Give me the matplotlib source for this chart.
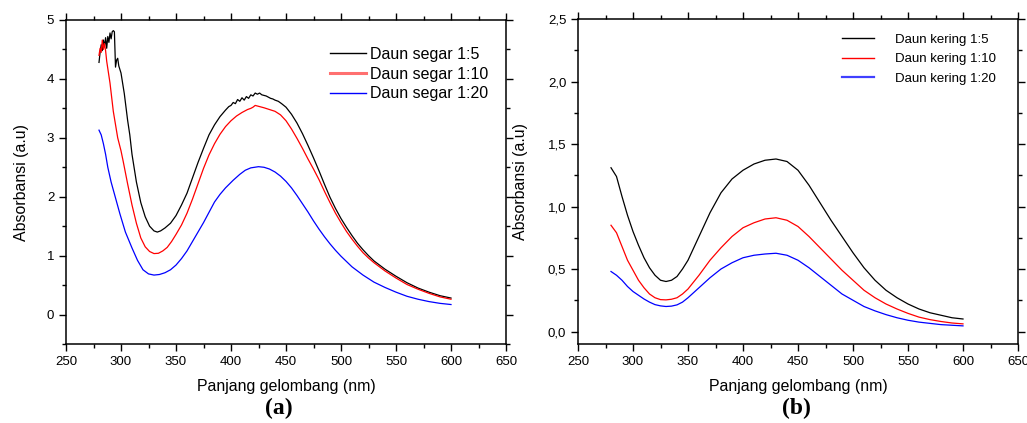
import matplotlib
matplotlib.use("Agg")
import matplotlib.pyplot as plt
from matplotlib.lines import Line2D
from matplotlib.ticker import MultipleLocator, FuncFormatter

plt.rcParams['font.family'] = ['Liberation Sans', 'DejaVu Sans']

# ---------------- Panel (a): Daun segar ----------------
a_black_x = [280, 281, 282, 283, 284, 285, 286, 287, 288, 289, 290, 291, 292, 293, 294, 295, 296, 297, 298,
             300, 303, 306, 308, 310, 314, 318, 322, 326, 330, 333, 336, 340, 345, 350, 355, 360, 365, 370, 375,
             380, 385, 390, 395, 398, 400, 402, 404, 406, 408, 410, 412, 414, 416, 418, 420, 422, 424, 426,
             428, 430, 432, 434, 436, 438, 440, 443, 446, 450, 455, 460, 465, 470, 475, 480, 485, 490, 495,
             500, 505, 510, 515, 520, 525, 530, 540, 550, 560, 570, 580, 590, 600]
a_black_y = [4.28, 4.45, 4.58, 4.48, 4.66, 4.55, 4.70, 4.52, 4.72, 4.62, 4.78, 4.68, 4.80, 4.82, 4.80, 4.20,
             4.32, 4.35, 4.22, 4.10, 3.75, 3.30, 3.05, 2.72, 2.25, 1.90, 1.66, 1.50, 1.42, 1.40, 1.42, 1.47, 1.55,
             1.68, 1.86, 2.06, 2.32, 2.58, 2.82, 3.05, 3.22, 3.36, 3.47, 3.53, 3.55, 3.60, 3.58, 3.65, 3.62,
             3.68, 3.64, 3.70, 3.67, 3.73, 3.71, 3.76, 3.74, 3.76, 3.73, 3.72, 3.71, 3.69, 3.67, 3.66, 3.64,
             3.62, 3.58, 3.52, 3.40, 3.25, 3.07, 2.87, 2.66, 2.44, 2.21, 1.99, 1.80, 1.63, 1.48, 1.34, 1.21,
             1.10, 1.00, 0.91, 0.77, 0.65, 0.54, 0.45, 0.38, 0.32, 0.28]

a_red_x = [280, 281, 282, 283, 284, 285, 286, 287, 290, 293, 297, 300, 302, 306, 310, 314, 318, 322, 326, 330,
           334, 338, 342, 346, 350, 355, 360, 365, 370, 375, 380, 385, 390, 395, 400, 405, 410, 415, 418,
           420, 422, 424, 426, 430, 435, 440, 445, 450, 455, 460, 465, 470, 475, 480, 485, 490, 495, 500,
           505, 510, 515, 520, 525, 530, 540, 550, 560, 570, 580, 590, 600]
a_red_y = [4.40, 4.52, 4.45, 4.66, 4.50, 4.60, 4.48, 4.30, 3.93, 3.45, 3.00, 2.78, 2.60, 2.22, 1.86, 1.55, 1.30,
           1.15, 1.07, 1.035, 1.04, 1.08, 1.14, 1.24, 1.36, 1.52, 1.72, 1.96, 2.22, 2.48, 2.71, 2.90, 3.06,
           3.19, 3.29, 3.37, 3.43, 3.48, 3.50, 3.52, 3.55, 3.54, 3.53, 3.51, 3.48, 3.45, 3.39, 3.29, 3.15,
           2.99, 2.82, 2.64, 2.47, 2.29, 2.09, 1.90, 1.72, 1.56, 1.41, 1.28, 1.16, 1.05, 0.96, 0.88, 0.74,
           0.62, 0.51, 0.43, 0.36, 0.30, 0.26]

a_blue_x = [280, 282, 284, 286, 288, 291, 295, 299, 304, 310, 315, 320, 325, 330, 335, 340, 345, 350, 355,
            360, 365, 370, 375, 381, 385, 390, 395, 402, 408, 413, 418, 425, 430, 435, 440, 445, 450, 455,
            460, 465, 470, 475, 480, 485, 490, 495, 500, 505, 510, 520, 530, 540, 550, 560, 570, 580, 590, 600]
a_blue_y = [3.13, 3.05, 2.90, 2.72, 2.50, 2.25, 1.98, 1.71, 1.40, 1.13, 0.92, 0.76, 0.69, 0.67, 0.68, 0.71,
            0.76, 0.84, 0.95, 1.08, 1.24, 1.40, 1.56, 1.77, 1.91, 2.04, 2.15, 2.28, 2.38, 2.45, 2.49, 2.51,
            2.50, 2.47, 2.42, 2.35, 2.26, 2.15, 2.02, 1.88, 1.74, 1.59, 1.45, 1.32, 1.20, 1.09, 0.99, 0.90,
            0.81, 0.67, 0.55, 0.46, 0.38, 0.31, 0.26, 0.22, 0.19, 0.17]

a_labels = ['Daun segar 1:5', 'Daun segar 1:10', 'Daun segar 1:20']

# ---------------- Panel (b): Daun kering ----------------
b_x = [280, 285, 290, 295, 300, 305, 310, 315, 320, 325, 330, 335, 340, 345, 350, 360, 370, 380, 390, 400,
       410, 420, 430, 440, 450, 460, 470, 480, 490, 500, 510, 520, 530, 540, 550, 560, 570, 580, 590, 600]
b_black_y = [1.31, 1.24, 1.08, 0.93, 0.80, 0.69, 0.59, 0.51, 0.45, 0.41, 0.40, 0.41, 0.44, 0.50, 0.57, 0.76,
             0.95, 1.11, 1.22, 1.29, 1.34, 1.37, 1.38, 1.36, 1.29, 1.17, 1.03, 0.89, 0.76, 0.63, 0.51, 0.41,
             0.33, 0.27, 0.22, 0.18, 0.15, 0.13, 0.11, 0.10]
b_red_y = [0.85, 0.79, 0.68, 0.57, 0.49, 0.41, 0.35, 0.30, 0.27, 0.255, 0.253, 0.258, 0.27, 0.30, 0.34, 0.45,
           0.57, 0.67, 0.76, 0.83, 0.87, 0.90, 0.91, 0.89, 0.84, 0.76, 0.67, 0.58, 0.49, 0.41, 0.33, 0.27,
           0.22, 0.18, 0.145, 0.115, 0.095, 0.08, 0.068, 0.061]
b_blue_y = [0.48, 0.45, 0.41, 0.36, 0.32, 0.29, 0.26, 0.235, 0.215, 0.205, 0.20, 0.203, 0.213, 0.235, 0.27,
            0.35, 0.43, 0.50, 0.55, 0.59, 0.61, 0.62, 0.626, 0.61, 0.57, 0.51, 0.44, 0.37, 0.30, 0.25, 0.20,
            0.165, 0.135, 0.11, 0.09, 0.075, 0.065, 0.055, 0.05, 0.045]
b_labels = ['Daun kering 1:5', 'Daun kering 1:10', 'Daun kering 1:20']

a_yticks = [0, 1, 2, 3, 4, 5]
b_yticks = [0.0, 0.5, 1.0, 1.5, 2.0, 2.5]
xticks = [250, 300, 350, 400, 450, 500, 550, 600, 650]

colors = ['black', 'red', 'blue']

W, H = 1027, 423
fig = plt.figure(figsize=(W / 100, H / 100), dpi=100)
axA = fig.add_axes([66 / W, 1 - 344 / H, 440 / W, 324 / H])
axB = fig.add_axes([578 / W, 1 - 344 / H, 440 / W, 325 / H])


def style(ax):
    for s in ax.spines.values():
        s.set_linewidth(1.1)
    ax.tick_params(which='both', direction='out', top=True, right=True,
                   labeltop=False, labelright=False, width=1.0, labelsize=9.5)
    ax.tick_params(which='major', length=5, pad=3.5)
    ax.tick_params(which='minor', length=3)
    ax.set_xlim(250, 650)
    ax.set_xticks(xticks)
    ax.xaxis.set_minor_locator(MultipleLocator(25))
    ax.set_xlabel('Panjang gelombang (nm)', fontsize=11.4, labelpad=8)


# Panel a
for xs, ys, c in zip([a_black_x, a_red_x, a_blue_x], [a_black_y, a_red_y, a_blue_y], colors):
    axA.plot(xs, ys, color=c, lw=0.9)
style(axA)
axA.set_ylim(-0.5, 5)
axA.set_yticks(a_yticks)
axA.yaxis.set_minor_locator(MultipleLocator(0.5))
axA.set_ylabel('Absorbansi (a.u)', fontsize=11.4, labelpad=13)
hA = [Line2D([], [], color='black', lw=1.0),
      Line2D([], [], color='#ff7070', lw=2.2),
      Line2D([], [], color='blue', lw=1.0)]
axA.legend(hA, a_labels, loc='upper left', bbox_to_anchor=(0.599, 0.917), frameon=False,
           fontsize=11.5, handlelength=2.3, handletextpad=0.25, labelspacing=0.3,
           borderaxespad=0, borderpad=0)

# Panel b
for ys, c in zip([b_black_y, b_red_y, b_blue_y], colors):
    axB.plot(b_x, ys, color=c, lw=0.9)
style(axB)
axB.set_ylim(-0.1, 2.5)
axB.set_yticks(b_yticks)
axB.yaxis.set_minor_locator(MultipleLocator(0.25))
axB.yaxis.set_major_formatter(FuncFormatter(lambda v, p: f'{v:.1f}'.replace('.', ',')))
axB.set_ylabel('Absorbansi (a.u)', fontsize=11.4, labelpad=14)
hB = [Line2D([], [], color='black', lw=1.0),
      Line2D([], [], color='red', lw=1.0),
      Line2D([], [], color='#4040ff', lw=1.6)]
axB.legend(hB, b_labels, loc='upper left', bbox_to_anchor=(0.60, 0.955), frameon=False,
           fontsize=9.5, handlelength=2.4, handletextpad=1.6, labelspacing=0.55,
           borderaxespad=0, borderpad=0)

fig.text(279 / W, 1 - 408 / H, '(a)', ha='center', va='center', fontsize=17,
         fontweight='bold', family=['Liberation Serif', 'DejaVu Serif'])
fig.text(796 / W, 1 - 408 / H, '(b)', ha='center', va='center', fontsize=17,
         fontweight='bold', family=['Liberation Serif', 'DejaVu Serif'])

fig.savefig('out.png', dpi=100)
